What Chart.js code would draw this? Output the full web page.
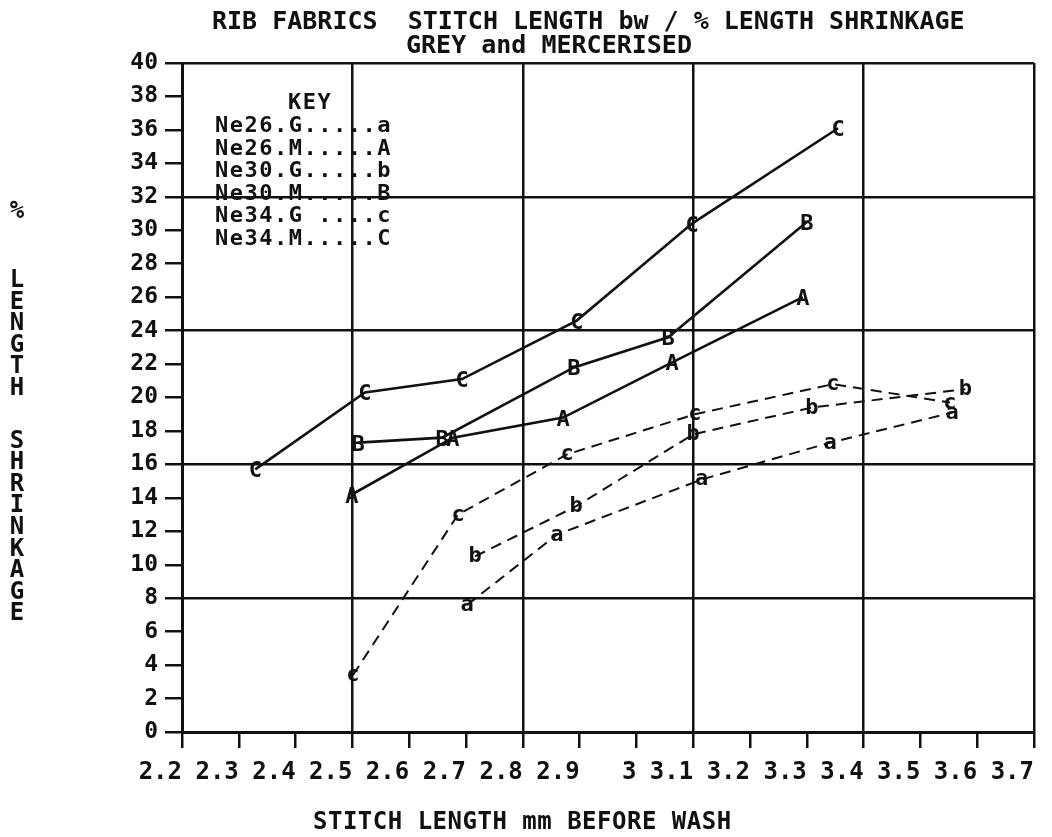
<!DOCTYPE html>
<html>
<head>
<meta charset="utf-8">
<title>Rib fabrics: stitch length vs % length shrinkage</title>
<script src="https://cdn.jsdelivr.net/npm/chart.js@4.4.1/dist/chart.umd.min.js"></script>
<style>
  html, body { margin: 0; padding: 0; background: #fff; }
  #wrap { width: 1052px; height: 837px; position: relative; }
  canvas { display: block; }
</style>
</head>
<body>
<div id="wrap"><canvas id="chart" width="1052" height="837"></canvas></div>
<script>
// Axis ticks
const xTickValues = [2.2, 2.3, 2.4, 2.5, 2.6, 2.7, 2.8, 2.9, 3.0, 3.1, 3.2, 3.3, 3.4, 3.5, 3.6, 3.7];
const xTickLabels = ['2.2', '2.3', '2.4', '2.5', '2.6', '2.7', '2.8', '2.9', '3', '3.1', '3.2', '3.3', '3.4', '3.5', '3.6', '3.7'];
const yTickValues = [0, 2, 4, 6, 8, 10, 12, 14, 16, 18, 20, 22, 24, 26, 28, 30, 32, 34, 36, 38, 40];
const yTickLabels = ['0', '2', '4', '6', '8', '10', '12', '14', '16', '18', '20', '22', '24', '26', '28', '30', '32', '34', '36', '38', '40'];

// Stitch length (mm, before wash) and % length shrinkage per yarn count / finish
const ne26G_x = [2.702, 2.860, 3.115, 3.341, 3.556];
const ne26G_y = [7.6, 11.8, 15.1, 17.3, 19.1];
const ne26M_x = [2.499, 2.677, 2.871, 3.063, 3.293];
const ne26M_y = [14.2, 17.6, 18.8, 22.1, 26.0];
const ne30G_x = [2.716, 2.894, 3.100, 3.309, 3.579];
const ne30G_y = [10.5, 13.5, 17.8, 19.4, 20.5];
const ne30M_x = [2.510, 2.658, 2.890, 3.056, 3.300];
const ne30M_y = [17.3, 17.6, 21.8, 23.6, 30.5];
const ne34G_x = [2.501, 2.686, 2.878, 3.103, 3.346, 3.552];
const ne34G_y = [3.4, 13.0, 16.6, 19.0, 20.8, 19.7];
const ne34M_x = [2.329, 2.522, 2.693, 2.895, 3.098, 3.355];
const ne34M_y = [15.7, 20.3, 21.1, 24.6, 30.4, 36.1];

const seriesNames = ['Ne26.G', 'Ne26.M', 'Ne30.G', 'Ne30.M', 'Ne34.G', 'Ne34.M'];
const seriesMarks = ['a', 'A', 'b', 'B', 'c', 'C'];
const keyLines = ['Ne26.G.....a', 'Ne26.M.....A', 'Ne30.G.....b', 'Ne30.M.....B', 'Ne34.G ....c', 'Ne34.M.....C'];

const titleLine1 = 'RIB FABRICS  STITCH LENGTH bw / % LENGTH SHRINKAGE';
const titleLine2 = 'GREY and MERCERISED';
const xTitle = 'STITCH LENGTH mm BEFORE WASH';
const yTitleChars = ['%', 'L', 'E', 'N', 'G', 'T', 'H', 'S', 'H', 'R', 'I', 'N', 'K', 'A', 'G', 'E'];

const FONT = '"DejaVu Sans Mono", "Liberation Mono", monospace';
const INK = '#111';

function pairs(xs, ys) {
  return xs.map((x, i) => ({ x: x, y: ys[i] }));
}

const xs = [ne26G_x, ne26M_x, ne30G_x, ne30M_x, ne34G_x, ne34M_x];
const ys = [ne26G_y, ne26M_y, ne30G_y, ne30M_y, ne34G_y, ne34M_y];

const datasets = seriesNames.map((name, i) => {
  const grey = seriesMarks[i] === seriesMarks[i].toLowerCase();
  return {
    label: name,
    data: pairs(xs[i], ys[i]),
    borderColor: INK,
    borderWidth: grey ? 2 : 2.6,
    borderDash: grey ? [11, 7] : [],
    pointRadius: 0,
    pointHoverRadius: 0,
    fill: false,
    tension: 0
  };
});

// Letters at each point, titles, key and the stacked y caption
const plotterText = {
  id: 'plotterText',
  afterDatasetsDraw(chart) {
    const ctx = chart.ctx;
    ctx.save();
    ctx.fillStyle = INK;
    ctx.textAlign = 'center';
    ctx.textBaseline = 'alphabetic';
    ctx.font = 'bold 22px ' + FONT;
    chart.data.datasets.forEach((ds, i) => {
      const mark = seriesMarks[i];
      const lower = mark === mark.toLowerCase();
      const meta = chart.getDatasetMeta(i);
      meta.data.forEach(pt => {
        ctx.fillText(mark, pt.x, pt.y + (lower ? 6 : 8));
      });
    });
    ctx.restore();
  },
  afterDraw(chart) {
    const ctx = chart.ctx;
    ctx.save();
    ctx.fillStyle = INK;
    ctx.textBaseline = 'alphabetic';

    // Title
    ctx.textAlign = 'left';
    ctx.font = 'bold 25px ' + FONT;
    ctx.fillText(titleLine1, 212, 29);
    ctx.fillText(titleLine2, 406, 53);

    // Key
    ctx.font = 'bold 22px ' + FONT;
    ctx.letterSpacing = '1.5px';
    ctx.fillText('KEY', 288, 109);
    keyLines.forEach((line, i) => {
      ctx.fillText(line, 215, 132 + i * 22.6);
    });

    // X axis caption
    ctx.font = 'bold 24px ' + FONT;
    ctx.letterSpacing = '0.5px';
    ctx.fillText(xTitle, 313, 829);

    // Y axis caption, one upright letter per line
    ctx.letterSpacing = '0px';
    ctx.textAlign = 'center';
    const yPos = [209, 278, 300, 321, 343, 364, 386, 439, 460, 482, 503, 525, 547, 568, 590, 611];
    yTitleChars.forEach((ch, i) => {
      ctx.fillText(ch, 17, yPos[i] + 8.5);
    });
    ctx.restore();
  }
};

const majorX = v => Math.abs(Math.round((v - 2.2) * 10) % 3) === 0;

new Chart(document.getElementById('chart'), {
  type: 'line',
  data: { datasets: datasets },
  plugins: [plotterText],
  options: {
    responsive: false,
    devicePixelRatio: 1,
    animation: false,
    events: [],
    layout: { padding: { top: 63, right: 18, bottom: 0, left: 0 } },
    plugins: {
      legend: { display: false },
      title: { display: false },
      tooltip: { enabled: false }
    },
    scales: {
      x: {
        type: 'linear',
        position: 'bottom',
        min: 2.2,
        max: 3.7,
        afterBuildTicks: s => { s.ticks = xTickValues.map(v => ({ value: v })); },
        afterFit: s => { s.height = 105; },
        ticks: {
          autoSkip: false,
          maxRotation: 0,
          minRotation: 0,
          align: 'end',
          padding: 10,
          color: INK,
          font: { family: FONT, size: 24, weight: 'bold' },
          callback: (v, i) => xTickLabels[i]
        },
        grid: {
          color: c => (c.tick && majorX(c.tick.value)) ? INK : 'rgba(0,0,0,0)',
          lineWidth: 2.5,
          drawTicks: true,
          tickLength: 16,
          tickColor: INK,
          tickWidth: 2.5
        },
        border: { display: true, color: INK, width: 3 }
      },
      y: {
        type: 'linear',
        min: 0,
        max: 40,
        afterBuildTicks: s => { s.ticks = yTickValues.map(v => ({ value: v })); },
        afterFit: s => { s.width = 182; },
        ticks: {
          autoSkip: false,
          padding: 7,
          color: INK,
          font: { family: FONT, size: 23, weight: 'bold' },
          callback: (v, i) => yTickLabels[i]
        },
        grid: {
          color: c => (c.tick && c.tick.value % 8 === 0) ? INK : 'rgba(0,0,0,0)',
          lineWidth: 2.5,
          drawTicks: true,
          tickLength: 17,
          tickColor: INK,
          tickWidth: 2.5
        },
        border: { display: true, color: INK, width: 3 }
      }
    }
  }
});
</script>
</body>
</html>
